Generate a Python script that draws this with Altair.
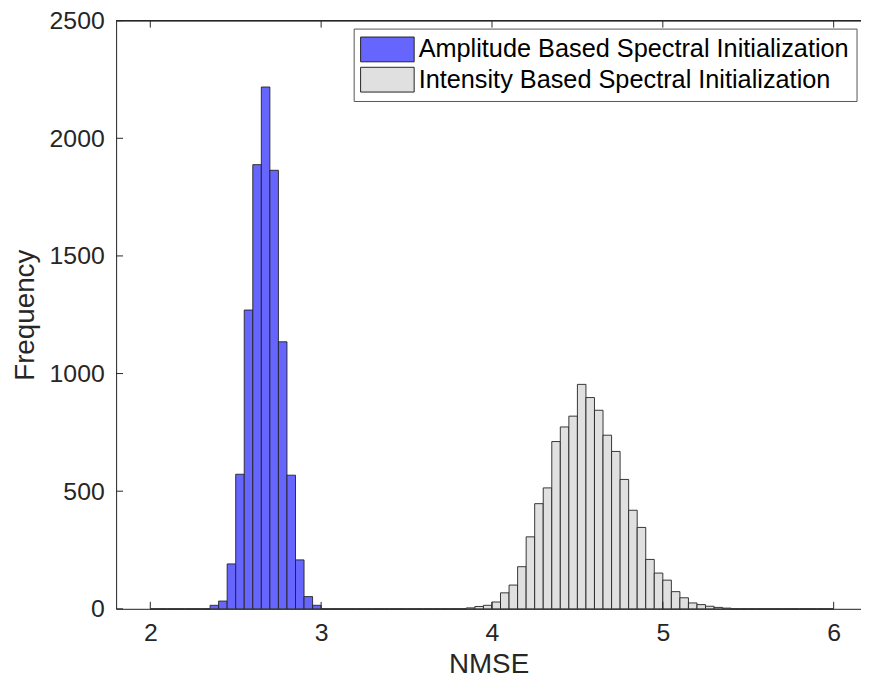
import altair as alt
import numpy as np
import pandas as pd

# ---- data ----
series_names = ["Amplitude Based Spectral Initialization",
                "Intensity Based Spectral Initialization"]
bin_width = 0.05

amp_first_bin = 2.35
amp_counts = [15, 33, 191, 572, 1270, 1888, 2218, 1864, 1135, 568, 208, 52, 15]

int_first_bin = 3.85
int_counts = [4, 10, 15, 29, 68, 101, 179, 306, 447, 514, 711, 773, 819, 954,
              898, 844, 738, 669, 550, 419, 346, 210, 152, 122, 73, 47, 25, 18,
              11, 6, 3]

# empty bins drawn along the baseline (histogram ranges)
amp_range = [2.0, 3.0]
int_range = [3.0, 6.0]

x_ticks = [2, 3, 4, 5, 6]
y_ticks = [0, 500, 1000, 1500, 2000, 2500]
x_domain = [1.8, 6.16]
y_domain = [0, 2500]


def build(name, first, counts, rng):
    starts = np.round(np.arange(rng[0], rng[1] - 1e-9, bin_width), 4)
    rows = []
    for s in starts:
        idx = int(round((s - first) / bin_width))
        c = counts[idx] if 0 <= idx < len(counts) else 0
        rows.append({"series": name, "start": s, "end": round(s + bin_width, 4), "count": c})
    return rows


df = pd.DataFrame(build(series_names[0], amp_first_bin, amp_counts, amp_range)
                  + build(series_names[1], int_first_bin, int_counts, int_range))
xt = pd.DataFrame({"t": x_ticks})
yt = pd.DataFrame({"t": y_ticks})

W, H = 751, 593
FONT = "Liberation Sans"
AX = "#262626"

xs = alt.Scale(domain=x_domain, nice=False, zero=False)
ys = alt.Scale(domain=y_domain, nice=False)

x_axis = alt.Axis(values=x_ticks, ticks=False, grid=False, title="NMSE", format="d",
                  labelFontSize=25, titleFontSize=28, labelPadding=12,
                  titlePadding=5, titleFontWeight="normal",
                  domainColor=AX, labelColor=AX, titleColor=AX,
                  labelFont=FONT, titleFont=FONT)
y_axis = alt.Axis(values=y_ticks, ticks=False, grid=False, title="Frequency", format="d",
                  labelFontSize=25, titleFontSize=28, labelPadding=12,
                  titlePadding=10, titleFontWeight="normal",
                  domainColor=AX, labelColor=AX, titleColor=AX,
                  labelFont=FONT, titleFont=FONT)

bars = alt.Chart(df).mark_rect(stroke="#222222", strokeWidth=0.9).encode(
    x=alt.X("start:Q", scale=xs, axis=x_axis),
    x2="end:Q",
    y=alt.Y("count:Q", scale=ys, axis=y_axis),
    y2=alt.datum(0),
    color=alt.Color("series:N",
                    scale=alt.Scale(domain=series_names, range=["#6666ff", "#e0e0e0"]),
                    legend=alt.Legend(orient="none", legendX=239.5, legendY=8, title=None,
                                      symbolType="M-1.037,-0.925L2.963,-0.925L2.963,0.925L-1.037,0.925Z",
                                      symbolSize=729, symbolStrokeColor="#222222",
                                      symbolStrokeWidth=1, symbolOpacity=1,
                                      labelFontSize=25.5, labelFont=FONT, labelColor="#000000",
                                      labelOffset=30.5, rowPadding=0.5, padding=7,
                                      strokeColor="#555555", fillColor="white",
                                      labelLimit=600)),
)

bottom_ticks = alt.Chart(xt).mark_rule(color=AX, strokeWidth=1).encode(
    x=alt.X("t:Q", scale=xs, axis=x_axis), y=alt.value(H), y2=alt.value(H - 7))
top_ticks = alt.Chart(xt).mark_rule(color=AX, strokeWidth=1).encode(
    x=alt.X("t:Q", scale=xs, axis=x_axis), y=alt.value(0), y2=alt.value(7))
left_ticks = alt.Chart(yt).mark_rule(color=AX, strokeWidth=1).encode(
    y=alt.Y("t:Q", scale=ys, axis=y_axis), x=alt.value(0), x2=alt.value(7))
top_line = alt.Chart(xt).mark_rule(color=AX, strokeWidth=1).encode(
    x=alt.value(0), x2=alt.value(W), y=alt.value(0))

chart = alt.layer(bars, bottom_ticks, top_ticks, left_ticks, top_line).properties(
    width=W, height=H,
    autosize=alt.AutoSizeParams(type="none"),
    padding={"left": 109, "top": 10, "right": 0, "bottom": 70},
).configure_view(stroke=None).configure(background="white")

chart.save("out.html", embed_options={"renderer": "svg", "actions": False})
